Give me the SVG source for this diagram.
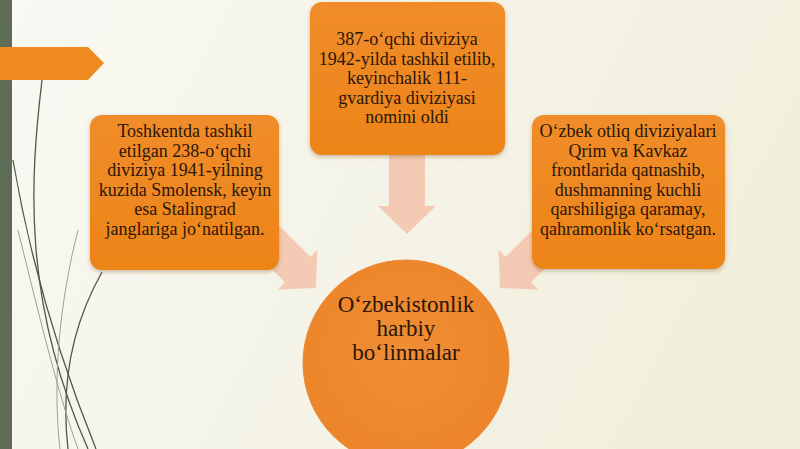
<svg xmlns="http://www.w3.org/2000/svg" width="800" height="449" viewBox="0 0 800 449">
<defs>
<linearGradient id="bg" x1="0" y1="0" x2="1" y2="0.3">
<stop offset="0" stop-color="#f9f9f4"/>
<stop offset="1" stop-color="#f1efdd"/>
</linearGradient>
<linearGradient id="box" x1="0" y1="0" x2="0" y2="1">
<stop offset="0" stop-color="#f08c2a"/>
<stop offset="1" stop-color="#ed8418"/>
</linearGradient>
<radialGradient id="circ" cx="0.5" cy="0.45" r="0.6">
<stop offset="0" stop-color="#f08e35"/>
<stop offset="1" stop-color="#ec8428"/>
</radialGradient>
<filter id="sh" x="-10%" y="-10%" width="120%" height="130%">
<feDropShadow dx="0" dy="2" stdDeviation="2" flood-color="#7a4a20" flood-opacity="0.35"/>
</filter>
</defs>
<style>
.box{fill:url(#box);filter:url(#sh)}
.t{font-family:"Liberation Serif","Times New Roman",serif;font-size:18px;fill:#2a160a;text-anchor:middle}
.tc{font-family:"Liberation Serif","Times New Roman",serif;font-size:23px;fill:#2a160a;text-anchor:middle}
.arr{fill:#f4b49a;opacity:0.65}
.curve{fill:none;stroke:#4d5a44;stroke-width:1.3}
.curvel{fill:none;stroke:#9aa392;stroke-width:1}
</style>
<rect width="800" height="449" fill="url(#bg)"/>
<rect x="0" y="0" width="12" height="449" fill="#5e6b55"/>
<g id="decor">
<path class="curve" d="M42,80 C30,180 22,300 88,449"/>
<path class="curve" d="M13,160 C30,260 60,360 96,449"/>
<path class="curve" d="M102,272 C75,320 60,380 68,449"/>
<path class="curvel" d="M18,230 C40,320 60,400 78,449"/>
<path class="curvel" d="M78,230 C60,300 52,380 60,449"/>
<polygon points="0,47 88,47 104,63 88,80 0,80" fill="#ee8a1e"/>
</g>
<g id="connectors">
<polygon class="arr" transform="translate(407,234)" points="-18,-82 18,-82 18,-28 29,-28 0,0 -29,-28 -18,-28"/>
<polygon class="arr" transform="translate(316,288) rotate(-45)" points="-18,-70 18,-70 18,-26 28,-26 0,0 -28,-26 -18,-26"/>
<polygon class="arr" transform="translate(500,288) rotate(45)" points="-18,-70 18,-70 18,-26 28,-26 0,0 -28,-26 -18,-26"/>
</g>
<g id="node-left">
<rect class="box" x="90" y="115" width="189" height="155" rx="12"/>
<text class="t" x="185" y="137">Toshkentda tashkil</text>
<text class="t" x="185" y="157">etilgan 238-o‘qchi</text>
<text class="t" x="185" y="176">diviziya 1941-yilning</text>
<text class="t" x="185" y="196">kuzida Smolensk, keyin</text>
<text class="t" x="185" y="215">esa Stalingrad</text>
<text class="t" x="185" y="235">janglariga jo‘natilgan.</text>
</g>
<g id="node-top">
<rect class="box" x="310" y="2" width="195" height="153" rx="12"/>
<text class="t" x="407" y="45">387-o‘qchi diviziya</text>
<text class="t" x="407" y="65">1942-yilda tashkil etilib,</text>
<text class="t" x="407" y="84">keyinchalik 111-</text>
<text class="t" x="407" y="104">gvardiya diviziyasi</text>
<text class="t" x="407" y="123">nomini oldi</text>
</g>
<g id="node-right">
<rect class="box" x="532" y="115" width="193" height="154" rx="12"/>
<text class="t" x="628" y="137">O‘zbek otliq diviziyalari</text>
<text class="t" x="628" y="157">Qrim va Kavkaz</text>
<text class="t" x="628" y="176">frontlarida qatnashib,</text>
<text class="t" x="628" y="196">dushmanning kuchli</text>
<text class="t" x="628" y="215">qarshiligiga qaramay,</text>
<text class="t" x="628" y="235">qahramonlik ko‘rsatgan.</text>
</g>
<g id="node-center">
<circle cx="406" cy="363" r="103" fill="url(#circ)" stroke="#e98a3a" stroke-width="1"/>
<text class="tc" x="406" y="312">O‘zbekistonlik</text>
<text class="tc" x="406" y="336">harbiy</text>
<text class="tc" x="406" y="360">bo‘linmalar</text>
</g>
</svg>
